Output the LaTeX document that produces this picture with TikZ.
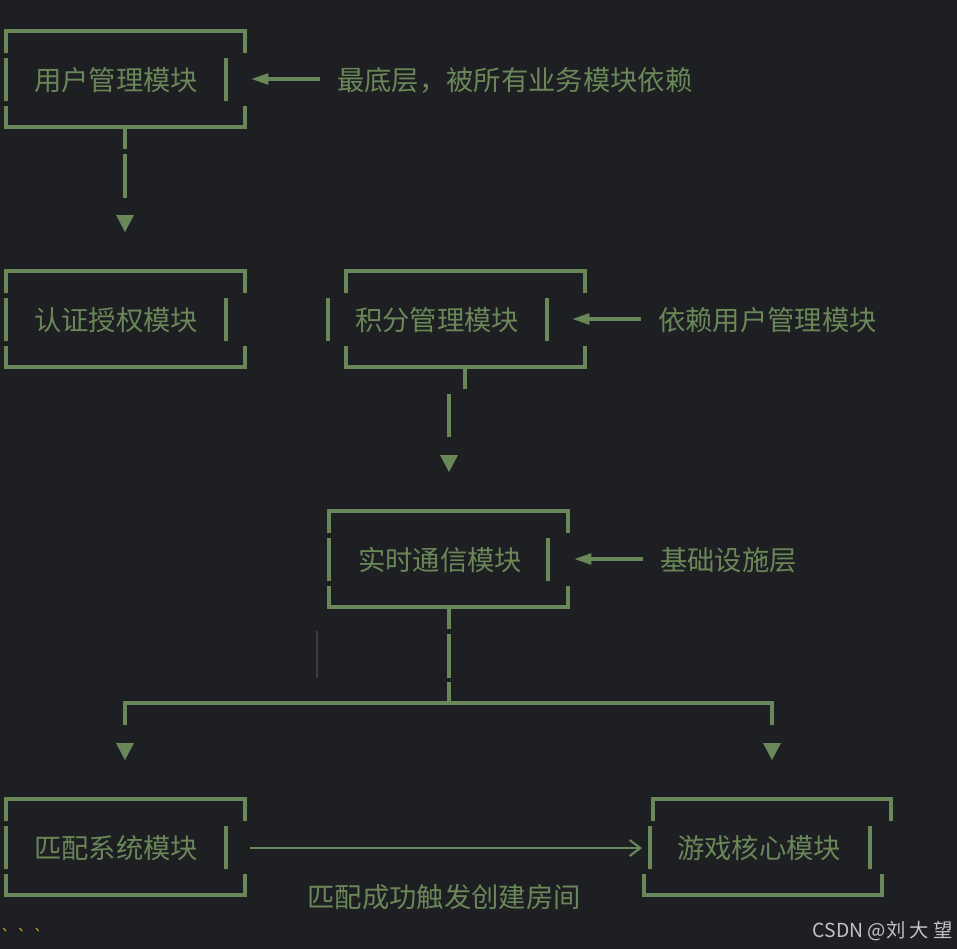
\documentclass[tikz,border=0pt]{standalone}
\usepackage{fontspec}
\usepackage{xcolor}
\usepackage{tikz}
\usetikzlibrary{arrows.meta}
\newfontfamily\cjk{Noto Sans CJK SC}
\newfontfamily\codefont{DejaVu Sans Mono}
\definecolor{bg}{HTML}{1E1F22}
\definecolor{moss}{HTML}{6A8759}
\definecolor{caret}{HTML}{3A3C40}
\definecolor{tickgold}{HTML}{D9B22A}
\definecolor{wmgray}{HTML}{C4C4C4}

% ascii style box: #1 top y, #2/#3 top corners, #4/#5 side bars, #6/#7 bottom corners
\newcommand{\asciibox}[7]{%
  \draw[art] (#2,#1+22) -- (#2,#1) -- (#3,#1) -- (#3,#1+22);
  \draw[art] (#4,#1+27) -- (#4,#1+70);
  \draw[art] (#5,#1+27) -- (#5,#1+70);
  \draw[art] (#6,#1+75) -- (#6,#1+96) -- (#7,#1+96) -- (#7,#1+75);}
\newcommand{\downtip}[2]{\fill[moss] (#1-9,#2) -- (#1+9,#2) -- (#1,#2+17) -- cycle;}

\begin{document}
\begin{tikzpicture}[x=0.75pt,y=-0.75pt,
  art/.style={draw=moss,line width=2.6pt},
  lbl/.style={text=moss,inner sep=0pt,font=\cjk\fontsize{20.5}{24}\selectfont},
  back/.style={art,-{Triangle[length=13pt,width=8pt]}},
  flow/.style={draw=moss,line width=1.8pt,-{Straight Barb[length=8pt,width=12pt,line width=1.6pt]}}]
  \fill[bg] (0,0) rectangle (957,949);
  \useasboundingbox (0,0) rectangle (957,949);

  % modules
  \node[lbl] (user) at (116,80) {用户管理模块};
  \node[lbl] (auth) at (116,320) {认证授权模块};
  \node[lbl] (points) at (437,320) {积分管理模块};
  \node[lbl] (rtc) at (440,560) {实时通信模块};
  \node[lbl] (match) at (116,848) {匹配系统模块};
  \node[lbl] (game) at (759,848) {游戏核心模块};

  \asciibox{31}{6}{245}{6}{226}{6}{245}
  \asciibox{271}{6}{245}{6}{226}{6}{245}
  \asciibox{271}{346}{585}{328}{547}{346}{585}
  \asciibox{511}{329}{568}{329}{548}{329}{568}
  \asciibox{799}{6}{245}{6}{226}{6}{245}
  \asciibox{799}{653}{891}{650}{870}{644}{882}

  % side notes
  \node[lbl,anchor=west] (note1) at (337,80) {最底层，被所有业务模块依赖};
  \node[lbl,anchor=west] (note2) at (658,320) {依赖用户管理模块};
  \node[lbl,anchor=west] (note3) at (660,560) {基础设施层};
  \coordinate (userR) at (251,79);
  \coordinate (pointsR) at (572,319);
  \coordinate (rtcR) at (574,559);
  \draw[back] (note1.west) ++(-17,-1) -- (userR);
  \draw[back] (note2.west) ++(-17,-1) -- (pointsR);
  \draw[back] (note3.west) ++(-17,-1) -- (rtcR);

  % downward links
  \draw[art] (125,127) -- (125,149);
  \draw[art] (125,154) -- (125,198);
  \downtip{125}{215}
  \draw[art] (465,367) -- (465,389);
  \draw[art] (449,394) -- (449,437);
  \downtip{449}{455}
  \draw[art] (449,607) -- (449,629);
  \draw[art] (449,634) -- (449,678);
  \draw[art] (449,682) -- (449,703);
  \draw[art] (125,725) -- (125,703) -- (772,703) -- (772,725);
  \downtip{125}{743}
  \downtip{772}{743}
  \draw[caret,line width=0.8pt] (317,631) -- (317,678);

  % match -> game
  \draw[flow,shorten <=39pt,shorten >=26pt] (match.east) -- (game.west);
  \node[lbl] (trigger) at (444,897) {匹配成功触发创建房间};

  \node[text=tickgold,inner sep=0pt,anchor=base west,font=\codefont\fontsize{13}{14}\selectfont] (fence) at (0,942) {\char96\hspace{4.5pt}\char96\hspace{4.5pt}\char96};
  \node[text=wmgray,inner sep=0pt,anchor=east,font=\cjk\fontsize{14.5}{16}\selectfont] (credit) at (953,931) {CSDN @刘 大 望};
\end{tikzpicture}
\end{document}
